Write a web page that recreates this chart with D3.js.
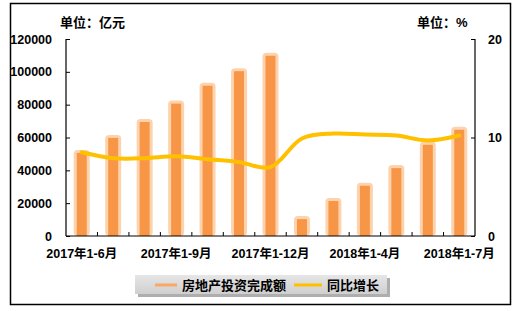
<!DOCTYPE html>
<html>
<head>
<meta charset="utf-8">
<script src="https://cdn.jsdelivr.net/npm/d3@7"></script>
<style>
  body { margin: 0; background: #fff; }
  text { font-family: "Liberation Sans", Arial, "Noto Sans CJK SC", sans-serif; font-weight: bold; fill: #000; }
</style>
</head>
<body>
<svg width="519" height="311"></svg>
<script>
const svg = d3.select("svg");

// data
const months = ["2017年1-6月", "2017年1-7月", "2017年1-8月", "2017年1-9月", "2017年1-10月", "2017年1-11月", "2017年1-12月",
  "2018年1-2月", "2018年1-3月", "2018年1-4月", "2018年1-5月", "2018年1-6月", "2018年1-7月"];
const investment = [50610, 59761, 69431, 80644, 91533, 100387, 109799, 10292, 21291, 30592, 41349, 55531, 64691];
const growth = [8.5, 7.9, 7.9, 8.1, 7.8, 7.5, 7.0, 9.9, 10.4, 10.3, 10.2, 9.7, 10.2];
const leftTicks = [0, 20000, 40000, 60000, 80000, 100000, 120000];
const rightTicks = [0, 10, 20];
const shownLabels = ["2017年1-6月", "2017年1-9月", "2017年1-12月", "2018年1-4月", "2018年1-7月"];

// frame
svg.append("rect")
  .attr("x", 10.5).attr("y", 3.5)
  .attr("width", 500).attr("height", 301)
  .attr("fill", "#fff").attr("stroke", "#000").attr("stroke-width", 1.5);

const x = d3.scaleBand().domain(months).range([66, 475]);
const yL = d3.scaleLinear().domain([0, 120000]).range([236, 39]);
const yR = d3.scaleLinear().domain([0, 20]).range([236, 39]);

// bars: glow + core
const bw = 10;
svg.append("g").selectAll("rect")
  .data(investment)
  .join("rect")
  .attr("x", (d, i) => x(months[i]) + x.bandwidth() / 2 - bw / 2 - 3)
  .attr("y", d => yL(d) - 3)
  .attr("width", bw + 6)
  .attr("height", d => yL(0) - yL(d) + 3)
  .attr("rx", 4)
  .attr("fill", "#fcd3ad");

svg.append("g").selectAll("rect")
  .data(investment)
  .join("rect")
  .attr("x", (d, i) => x(months[i]) + x.bandwidth() / 2 - bw / 2)
  .attr("y", d => yL(d))
  .attr("width", bw)
  .attr("height", d => yL(0) - yL(d))
  .attr("fill", "#f79646");

// line
const line = d3.line()
  .x((d, i) => x(months[i]) + x.bandwidth() / 2)
  .y(d => yR(d))
  .curve(d3.curveCatmullRom.alpha(0.5));

svg.append("path")
  .datum(growth)
  .attr("d", line)
  .attr("fill", "none")
  .attr("stroke", "#ffc000")
  .attr("stroke-width", 4)
  .attr("stroke-linecap", "round");

// axes
const axL = svg.append("g")
  .attr("transform", "translate(66,0)")
  .call(d3.axisLeft(yL).tickValues(leftTicks).tickSize(-4).tickPadding(14).tickFormat(d3.format("d")));
const axR = svg.append("g")
  .attr("transform", "translate(475,0)")
  .call(d3.axisRight(yR).tickValues(rightTicks).tickSize(-4).tickPadding(13));
const axB = svg.append("g")
  .attr("transform", "translate(0,236)")
  .call(d3.axisBottom(x).tickSize(0).tickPadding(13)
    .tickFormat(d => shownLabels.includes(d) ? d : ""));

[axL, axR, axB].forEach(a => {
  a.select(".domain").attr("stroke", "#000").attr("stroke-width", 1.2);
  a.selectAll("line").attr("stroke", "#000");
  a.selectAll("text").attr("font-size", 12.5).attr("fill", "#000");
});
axL.select(".domain").attr("d", "M0,39V236");
axR.select(".domain").attr("d", "M0,39V236");
axB.select(".domain").attr("d", "M66,0H475");

// x ticks at category boundaries, pointing up
svg.append("g").selectAll("line")
  .data(months.slice(1))
  .join("line")
  .attr("x1", d => x(d)).attr("x2", d => x(d))
  .attr("y1", 236).attr("y2", 232)
  .attr("stroke", "#000");

// unit labels
svg.append("text").attr("x", 60).attr("y", 27).attr("font-size", 13).text("单位：亿元");
svg.append("text").attr("x", 417).attr("y", 27).attr("font-size", 13).text("单位：%");

// legend
const grad = svg.append("defs").append("linearGradient")
  .attr("id", "lg").attr("x1", 0).attr("y1", 0).attr("x2", 0).attr("y2", 1);
grad.append("stop").attr("offset", "0%").attr("stop-color", "#e6e6e6");
grad.append("stop").attr("offset", "100%").attr("stop-color", "#cfcfcf");

svg.append("rect").attr("x", 138).attr("y", 278).attr("width", 252).attr("height", 19)
  .attr("fill", "#8c8c8c").attr("opacity", 0.7);
svg.append("rect").attr("x", 135).attr("y", 275).attr("width", 252).attr("height", 19)
  .attr("fill", "url(#lg)");

const legendItems = [
  { name: "房地产投资完成额", color: "#f9a868", x0: 155, x1: 177 },
  { name: "同比增长", color: "#ffc000", x0: 294, x1: 322 }
];
const lg = svg.append("g").selectAll("g").data(legendItems).join("g");
lg.append("line")
  .attr("x1", d => d.x0).attr("x2", d => d.x1)
  .attr("y1", 285).attr("y2", 285)
  .attr("stroke", d => d.color).attr("stroke-width", 3);
lg.append("text")
  .attr("x", d => d.x1 + 5).attr("y", 290)
  .attr("font-size", 13)
  .text(d => d.name);
</script>
</body>
</html>
